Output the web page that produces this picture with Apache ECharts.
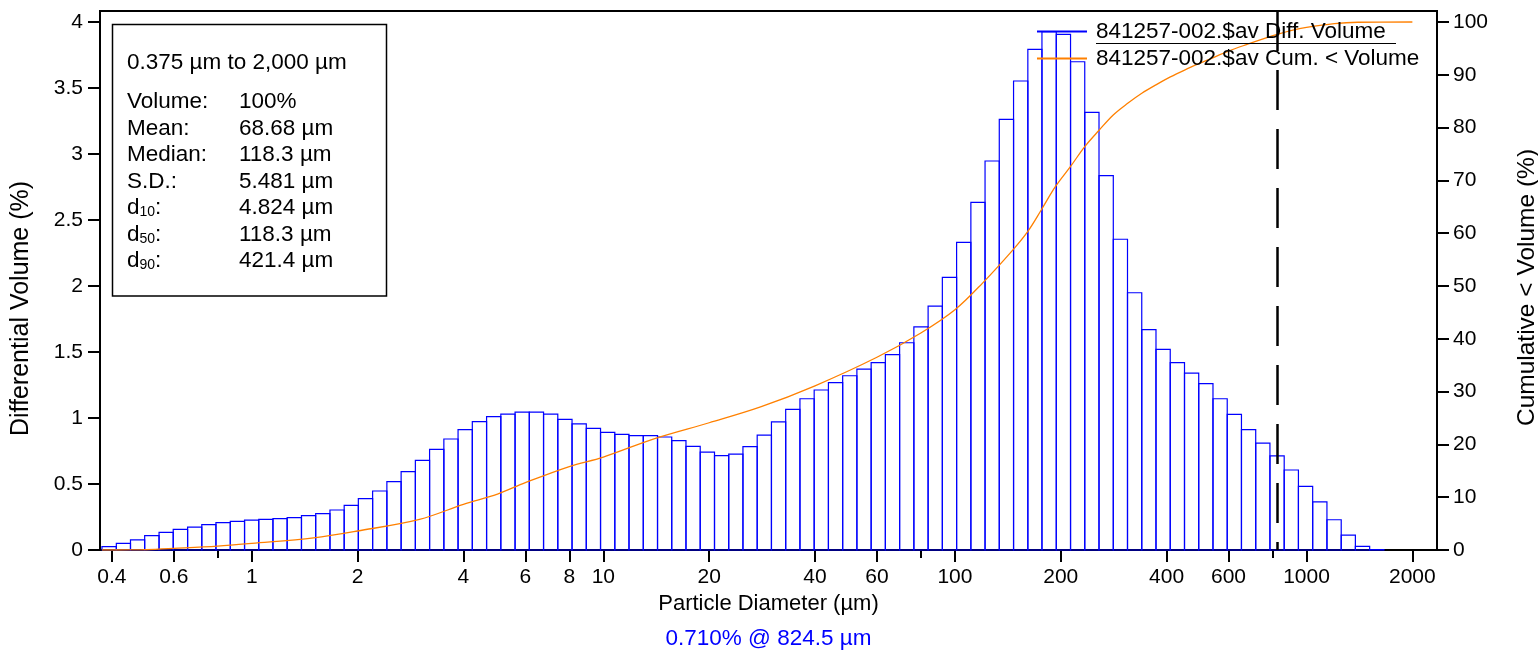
<!DOCTYPE html>
<html>
<head>
<meta charset="utf-8">
<script src="https://cdn.jsdelivr.net/npm/echarts@6/dist/echarts.min.js"></script>
<style>
html,body{margin:0;padding:0;background:#fff;}
#chart{width:1538px;height:651px;}
</style>
</head>
<body>
<div id="chart"></div>
<script>
// ---- data ----
const binEdges = [0.375, 0.412, 0.452, 0.496, 0.545, 0.598, 0.657, 0.721, 0.791, 0.869, 0.954,
  1.047, 1.149, 1.261, 1.385, 1.520, 1.669, 1.832,
  2.010, 2.207, 2.423, 2.660, 2.920, 3.205, 3.519, 3.862, 4.240, 4.655, 5.110, 5.610, 6.158, 6.760, 7.421, 8.147, 8.943, 9.818,
  10.78, 11.83, 12.99, 14.26, 15.65, 17.18, 18.86, 20.71, 22.73, 24.95, 27.39, 30.07, 33.01, 36.24, 39.78, 43.67, 47.94, 52.62, 57.77, 63.41, 69.61, 76.42, 83.89, 92.09,
  101.1, 111.0, 121.8, 133.7, 146.8, 161.2, 176.8, 194.2, 213.2, 234.0, 256.9, 282.1, 309.6, 339.9, 373.1, 409.6, 449.7, 493.6, 541.9, 594.9, 653.0, 716.9, 786.9, 863.9, 948.3,
  1041, 1143, 1255, 1377, 1512, 1660, 1822, 2000];

const diffVolume = [0.025, 0.05, 0.076, 0.109, 0.134, 0.157, 0.174, 0.192, 0.207, 0.217,
  0.227, 0.232, 0.237, 0.245, 0.260, 0.275, 0.303, 0.338, 0.389, 0.447,
  0.518, 0.593, 0.679, 0.763, 0.841, 0.912, 0.972,
  1.01, 1.03, 1.045, 1.045, 1.03, 0.99,
  0.955, 0.922, 0.891, 0.876, 0.866, 0.866, 0.856, 0.828, 0.785, 0.742,
  0.715, 0.727, 0.783, 0.871, 0.970, 1.066, 1.146, 1.212, 1.268,
  1.32, 1.37, 1.42, 1.48, 1.57, 1.69, 1.848,
  2.066, 2.331, 2.634, 2.947, 3.263, 3.553, 3.793, 3.927, 3.907, 3.699, 3.316, 2.836, 2.354, 1.949,
  1.67, 1.52, 1.42, 1.34,
  1.261, 1.146, 1.027, 0.912, 0.810, 0.713, 0.606, 0.482, 0.364, 0.229, 0.112, 0.028, 0.003,
  null, null];

const cumSizes = [0.375, 0.45, 0.5, 0.6, 0.8, 1, 1.5, 2, 3, 4, 5, 6, 8, 10, 14, 20, 28, 40, 60, 80, 100,
  120, 146, 161, 176, 193, 213, 234, 257, 282, 310, 340, 373, 410, 450, 494, 545, 600, 680, 760, 830, 920, 1000, 1200, 1400, 2000];
const cumVolume = [0, 0.01, 0.05, 0.3, 0.75, 1.26, 2.3, 3.6, 5.8, 8.65, 10.6, 12.75, 15.8, 17.6, 21.1, 24.1, 27.1, 31.1, 36.5, 41.1, 45.5,
  50.6, 56.8, 60.3, 64.4, 68.8, 72.6, 76.4, 79.5, 82.4, 84.6, 86.5, 88.1, 89.6, 90.9, 92.1, 93.3, 94.5, 95.8, 96.9, 97.7, 98.5, 99.0, 99.7, 99.95, 100];

const xTickValues = [0.4, 0.6, 1, 2, 4, 6, 8, 10, 20, 40, 60, 100, 200, 400, 600, 1000, 2000];
const xMinorTickValues = [0.8, 80, 800];
const leftTickValues = [0, 0.5, 1, 1.5, 2, 2.5, 3, 3.5, 4];
const rightTickValues = [0, 10, 20, 30, 40, 50, 60, 70, 80, 90, 100];

const diffName = '841257-002.$av Diff. Volume';
const cumName = '841257-002.$av Cum. < Volume';
const markerSize = 824.5;
const markerText = '0.710% @ 824.5 µm';
const rangeText = '0.375 µm to 2,000 µm';
const statRows = [
  ['Volume:', '100%'],
  ['Mean:', '68.68 µm'],
  ['Median:', '118.3 µm'],
  ['S.D.:', '5.481 µm'],
  ['d{s|10}:', '4.824 µm'],
  ['d{s|50}:', '118.3 µm'],
  ['d{s|90}:', '421.4 µm']
];

// ---- layout / styling ----
const FF = '"Liberation Sans", Arial, Helvetica, sans-serif';
const gridTop = 11, gridBottomY = 550;
const yLeftMax = 4 * (gridBottomY - gridTop) / (gridBottomY - 22);
const yRightMax = 100 * (gridBottomY - gridTop) / (gridBottomY - 22);
const xMin = 0.3702, xMax = 2350;

const barData = [];
for (let i = 0; i < diffVolume.length; i++) {
  if (diffVolume[i] === null) continue;
  barData.push([binEdges[i], binEdges[i + 1], diffVolume[i]]);
}
const cumData = cumSizes.map((s, i) => [s, cumVolume[i]]);

const fmt = v => String(Number(Number(v).toPrecision(6)));

const chart = echarts.init(document.getElementById('chart'), null, {renderer: 'canvas'});

const graphics = [
  {type: 'rect', shape: {x: 112.5, y: 24.5, width: 274, height: 271.5},
   style: {fill: '#fff', stroke: '#000', lineWidth: 1.5}, z: 10},
  {type: 'text', x: 127, y: 63, z: 11,
   style: {text: rangeText, font: '22.5px ' + FF, fill: '#000', verticalAlign: 'middle'}},
  {type: 'line', shape: {x1: 1096, y1: 43.5, x2: 1396, y2: 43.5},
   style: {stroke: '#000', lineWidth: 1}, z: 11},
  {type: 'text', x: 768.5, y: 639, z: 11,
   style: {text: markerText, font: '22.5px ' + FF, fill: '#0000ff', align: 'center', verticalAlign: 'middle'}}
];
const rowY0 = 102, rowStep = 26.5;
statRows.forEach((r, i) => {
  graphics.push({type: 'text', x: 127, y: rowY0 + i * rowStep, z: 11,
    style: {text: r[0], fontSize: 22.5, fontFamily: FF, fill: '#000', verticalAlign: 'middle',
      rich: {s: {fontSize: 14, fontFamily: FF, fill: '#000', verticalAlign: 'bottom'}}}});
  graphics.push({type: 'text', x: 239, y: rowY0 + i * rowStep, z: 11,
    style: {text: r[1], fontSize: 22.5, fontFamily: FF, fill: '#000', verticalAlign: 'middle'}});
});

const option = {
  animation: false,
  backgroundColor: '#fff',
  grid: {left: 100, right: 101, top: gridTop, bottom: 651 - gridBottomY,
    outerBoundsMode: 'none', containLabel: false,
    show: true, borderColor: '#000', borderWidth: 2, backgroundColor: 'transparent'},
  legend: {
    orient: 'vertical', left: 1037, top: 20, padding: 0, itemGap: 4,
    itemWidth: 50, itemHeight: 2, icon: 'rect', selectedMode: false,
    textStyle: {fontFamily: FF, fontSize: 22.5, lineHeight: 22, color: '#000', padding: [0, 0, 0, 4]},
    data: [
      {name: diffName, itemStyle: {color: '#0000ff'}},
      {name: cumName, itemStyle: {color: '#ff8000'}}
    ]
  },
  xAxis: [{
    type: 'log', logBase: 10, min: xMin, max: xMax, position: 'bottom',
    axisLine: {show: true, onZero: false, lineStyle: {color: '#000', width: 2}},
    axisTick: {show: true, inside: false, length: 12, customValues: xTickValues, lineStyle: {color: '#000', width: 2}},
    axisLabel: {show: true, customValues: xTickValues, formatter: fmt, fontFamily: FF, fontSize: 21, color: '#000', margin: 17},
    splitLine: {show: false}, minorTick: {show: false},
    name: 'Particle Diameter (µm)', nameLocation: 'middle', nameGap: 43,
    nameTextStyle: {fontFamily: FF, fontSize: 22, color: '#000'}
  }, {
    type: 'log', logBase: 10, min: xMin, max: xMax, position: 'bottom',
    axisLine: {show: false, onZero: false},
    axisTick: {show: true, inside: false, length: 8, customValues: xMinorTickValues, lineStyle: {color: '#000', width: 2}},
    axisLabel: {show: false}, splitLine: {show: false}
  }],
  yAxis: [{
    type: 'value', min: 0, max: yLeftMax, position: 'left',
    axisLine: {show: true, onZero: false, lineStyle: {color: '#000', width: 2}},
    axisTick: {show: true, length: 12, customValues: leftTickValues, lineStyle: {color: '#000', width: 2}},
    axisLabel: {customValues: leftTickValues, formatter: fmt, fontFamily: FF, fontSize: 21, color: '#000', margin: 17},
    splitLine: {show: false},
    name: 'Differential Volume (%)', nameLocation: 'middle', nameGap: 66,
    nameTextStyle: {fontFamily: FF, fontSize: 25, color: '#000', padding: [0, 56, 0, 0]}
  }, {
    type: 'value', min: 0, max: yRightMax, position: 'right',
    axisLine: {show: true, onZero: false, lineStyle: {color: '#000', width: 2}},
    axisTick: {show: true, length: 12, customValues: rightTickValues, lineStyle: {color: '#000', width: 2}},
    axisLabel: {customValues: rightTickValues, formatter: fmt, fontFamily: FF, fontSize: 21, color: '#000', margin: 16},
    splitLine: {show: false},
    name: 'Cumulative < Volume (%)', nameLocation: 'middle', nameGap: 78, nameRotate: 90,
    nameTextStyle: {fontFamily: FF, fontSize: 24.5, color: '#000', padding: [0, 14, 0, 0]}
  }],
  series: [{
    name: diffName, type: 'custom', xAxisIndex: 0, yAxisIndex: 0,
    dimensions: ['lo', 'hi', 'v'], encode: {x: ['lo', 'hi'], y: 'v'},
    itemStyle: {color: '#0000ff'},
    data: barData,
    renderItem: function (params, api) {
      const p0 = api.coord([api.value(0), api.value(2)]);
      const p1 = api.coord([api.value(1), 0]);
      return {type: 'rect',
        shape: {x: p0[0], y: p0[1], width: p1[0] - p0[0], height: p1[1] - p0[1]},
        style: {fill: 'none', stroke: '#0000ff', lineWidth: 1.2}};
    }
  }, {
    name: cumName, type: 'line', xAxisIndex: 0, yAxisIndex: 1,
    data: cumData, smooth: 0.35, showSymbol: false, symbol: 'none',
    itemStyle: {color: '#ff8000'},
    lineStyle: {color: '#ff8000', width: 1.3},
    z: 3,
    markLine: {
      silent: true, symbol: ['none', 'none'], label: {show: false},
      lineStyle: {color: '#000', width: 2.5, type: [40, 19]},
      data: [[{coord: [markerSize, yRightMax]}, {coord: [markerSize, 0]}]]
    }
  }],
  graphic: graphics
};
chart.setOption(option);
</script>
</body>
</html>
